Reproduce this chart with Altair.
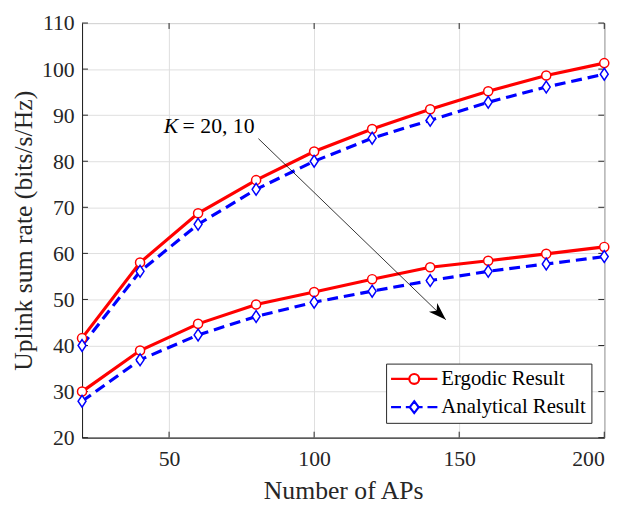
import altair as alt
import pandas as pd

# ---------------- data ----------------
aps = [20, 40, 60, 80, 100, 120, 140, 160, 180, 200]
ergodic_k20 = [41.6, 58.0, 68.7, 75.9, 82.1, 87.0, 91.3, 95.2, 98.6, 101.3]
analytic_k20 = [40.0, 56.1, 66.3, 73.9, 80.0, 85.0, 88.9, 92.8, 96.1, 98.9]
ergodic_k10 = [30.0, 38.9, 44.7, 48.9, 51.6, 54.4, 57.0, 58.4, 59.9, 61.4]
analytic_k10 = [27.9, 36.9, 42.3, 46.3, 49.4, 51.8, 54.1, 56.1, 57.7, 59.3]

x_ticks = [50, 100, 150, 200]
y_ticks = [20, 30, 40, 50, 60, 70, 80, 90, 100, 110]
series_names = ["Ergodic Result", "Analytical Result"]

# annotation (data coordinates)
ann_text_x = [48.2]
ann_text_y = [86.1]
arrow_x = [80.8, 145.4]
arrow_y = [84.9, 45.6]

W, H = 529, 420
FONT = "Liberation Serif"
RED = "#ff0000"
BLUE = "#0000ff"

rows = []
for k, erg, ana in [(20, ergodic_k20, analytic_k20), (10, ergodic_k10, analytic_k10)]:
    for a, e, n in zip(aps, erg, ana):
        rows.append({"aps": a, "rate": e, "K": k, "series": "Ergodic Result"})
        rows.append({"aps": a, "rate": n, "K": k, "series": "Analytical Result"})
df = pd.DataFrame(rows)

xscale = alt.Scale(domain=[20, 200], nice=False, zero=False)
yscale = alt.Scale(domain=[20, 110], nice=False, zero=False)

xenc = alt.X("aps:Q", scale=xscale, title="Number of APs",
             axis=alt.Axis(values=x_ticks, format="d"))
yenc = alt.Y("rate:Q", scale=yscale, title="Uplink sum rate (bits/s/Hz)",
             axis=alt.Axis(values=y_ticks, format="d"))

base = alt.Chart(df)

red_line = base.transform_filter(alt.datum.series == "Ergodic Result").mark_line(
    color=RED, strokeWidth=3.2).encode(x=xenc, y=yenc, detail="K:N")
red_pts = base.transform_filter(alt.datum.series == "Ergodic Result").mark_point(
    shape="circle", size=85, fill="white", stroke=RED, strokeWidth=1.5,
    opacity=1, fillOpacity=1).encode(x=xenc, y=yenc)
blue_line = base.transform_filter(alt.datum.series == "Analytical Result").mark_line(
    color=BLUE, strokeWidth=3.2, strokeDash=[11, 6]).encode(x=xenc, y=yenc, detail="K:N")
diamond = "M0,-1L0.67,0L0,1L-0.67,0Z"
blue_pts = base.transform_filter(alt.datum.series == "Analytical Result").mark_point(
    shape=diamond, size=144, fill="white", stroke=BLUE, strokeWidth=1.5,
    opacity=1, fillOpacity=1).encode(x=xenc, y=yenc)

# legend (symbols drawn by Vega-Lite's legend with line+marker paths)
r = 0.577
k = 0.3187
circle_path = (f"M{r},0C{r},{k} {k},{r} 0,{r}C-{k},{r} -{r},{k} -{r},0"
               f"C-{r},-{k} -{k},-{r} 0,-{r}C{k},-{r} {r},-{k} {r},0Z")
erg_sym = f"M-2.71,0H-{r}M{r},0H2.71" + circle_path
ana_sym = ("M-2.71,0H-1.55M-0.98,0H-0.52M0.52,0H0.98M1.55,0H2.71"
           "M0,-0.69L0.52,0L0,0.69L-0.52,0Z")
legend_layer = base.transform_filter("datum.rate < 0").mark_point(
    size=300, filled=False, opacity=1).encode(
    x=xenc, y=yenc,
    color=alt.Color("series:N",
                    scale=alt.Scale(domain=series_names, range=[RED, BLUE]),
                    legend=alt.Legend(title=None)),
    shape=alt.Shape("series:N",
                    scale=alt.Scale(domain=series_names, range=[erg_sym, ana_sym]),
                    legend=alt.Legend(title=None)),
)

# inward ticks (box style)
xt = pd.DataFrame({"aps": x_ticks})
yt = pd.DataFrame({"rate": y_ticks})
tick_style = dict(color="#262626", strokeWidth=1)
ticks = [
    alt.Chart(yt).mark_rule(**tick_style).encode(y=alt.Y("rate:Q", scale=yscale), x=alt.value(0), x2=alt.value(6)),
    alt.Chart(yt).mark_rule(**tick_style).encode(y=alt.Y("rate:Q", scale=yscale), x=alt.value(W - 6), x2=alt.value(W)),
    alt.Chart(xt).mark_rule(**tick_style).encode(x=alt.X("aps:Q", scale=xscale), y=alt.value(0), y2=alt.value(6)),
    alt.Chart(xt).mark_rule(**tick_style).encode(x=alt.X("aps:Q", scale=xscale), y=alt.value(H - 6), y2=alt.value(H)),
]

# annotation
ann = pd.DataFrame({"aps": ann_text_x, "rate": ann_text_y})
ann_k = alt.Chart(ann).mark_text(text="K", font=FONT, fontSize=22, fontStyle="italic",
                                 align="left", baseline="alphabetic", color="black").encode(
    x=alt.X("aps:Q", scale=xscale), y=alt.Y("rate:Q", scale=yscale))
ann_rest = alt.Chart(ann).mark_text(text="= 20, 10", font=FONT, fontSize=22, dx=19,
                                    align="left", baseline="alphabetic", color="black").encode(
    x=alt.X("aps:Q", scale=xscale), y=alt.Y("rate:Q", scale=yscale))
arr = pd.DataFrame({"aps": arrow_x, "rate": arrow_y, "o": [0, 1]})
arrow_line = alt.Chart(arr).mark_line(color="black", strokeWidth=0.8).encode(
    x=alt.X("aps:Q", scale=xscale), y=alt.Y("rate:Q", scale=yscale), order="o:Q")
head_path = "M0,0L0.6,1.8L0,1.3L-0.6,1.8Z"
arrow_head = alt.Chart(arr).transform_filter("datum.o == 1").mark_point(
    shape=head_path, size=400, filled=True, color="black", opacity=1, angle=134).encode(
    x=alt.X("aps:Q", scale=xscale), y=alt.Y("rate:Q", scale=yscale))

chart = alt.layer(
    *ticks, red_line, blue_line, red_pts, blue_pts, arrow_line, arrow_head,
    ann_k, ann_rest, legend_layer
).properties(
    width=W, height=H,
    padding={"left": 75, "top": 12, "right": 20, "bottom": 66},
    autosize=alt.AutoSizeParams(type="none"),
).configure_view(
    stroke="#262626", strokeWidth=1
).configure_axis(
    labelFont=FONT, titleFont=FONT, labelFontSize=22, titleFontSize=26,
    labelColor="#262626", titleColor="#262626", titleFontWeight="normal",
    gridColor="#dedede", gridWidth=1, domainColor="#262626", domainWidth=1,
    ticks=False, tickSize=0
).configure_axisX(
    labelPadding=11, titlePadding=9
).configure_axisY(
    labelPadding=8, titlePadding=5
).configure_legend(
    orient="none", legendX=308, legendY=345,
    labelFont=FONT, labelFontSize=21, labelColor="black",
    symbolSize=300, symbolStrokeWidth=2.2, symbolFillColor="white",
    symbolOffset=13, labelOffset=17, rowPadding=6.6,
    padding=5, strokeColor="#262626", fillColor="white", cornerRadius=0,
)

chart.save("out.html", embed_options={"renderer": "svg", "actions": False})
